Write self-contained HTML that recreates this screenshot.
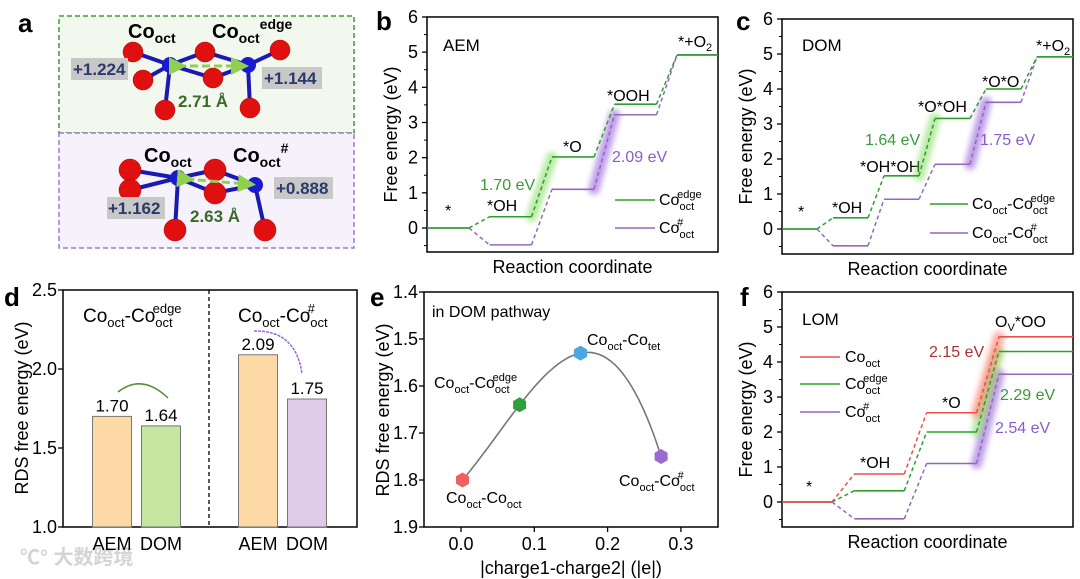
<!DOCTYPE html>
<html><head><meta charset="utf-8">
<style>
html,body{margin:0;padding:0;background:#fff;}
svg{display:block;font-family:"Liberation Sans","Noto Sans CJK SC",sans-serif;}
</style></head>
<body>
<svg id="fig" width="1080" height="579" viewBox="0 0 1080 579">
<defs>
<filter id="blur" x="-50%" y="-50%" width="200%" height="200%"><feGaussianBlur stdDeviation="3"/></filter>
<marker id="ga" markerWidth="6" markerHeight="6" refX="3" refY="3" orient="auto"><path d="M0,0L6,3L0,6z" fill="#8fd14f"/></marker>
</defs>
<g font-weight="bold" font-size="26" fill="#000">
<text x="18" y="32">a</text>
<text x="376" y="30">b</text>
<text x="736" y="30">c</text>
<text x="4" y="306">d</text>
<text x="370" y="306">e</text>
<text x="740" y="306">f</text>
</g>

<g>
<rect x="59" y="16" width="295" height="117" fill="#f2f8ee" stroke="#3f9f3f" stroke-width="1.5" stroke-dasharray="5,3"/>
<rect x="59" y="133" width="295" height="115" fill="#f6f2fb" stroke="#9a7ad0" stroke-width="1.5" stroke-dasharray="5,3"/>
<g stroke="#1a1ab0" stroke-width="4">
<line x1="133" y1="52" x2="170" y2="65"/><line x1="205" y1="52" x2="170" y2="65"/><line x1="143" y1="80" x2="170" y2="65"/><line x1="165" y1="110" x2="170" y2="65"/><line x1="213" y1="78" x2="170" y2="65"/>
<line x1="205" y1="52" x2="248" y2="65"/><line x1="280" y1="50" x2="248" y2="65"/><line x1="213" y1="78" x2="248" y2="65"/><line x1="250" y1="108" x2="248" y2="65"/>
<line x1="130" y1="170" x2="178" y2="178"/><line x1="130" y1="190" x2="178" y2="178"/><line x1="215" y1="170" x2="178" y2="178"/><line x1="215" y1="193" x2="178" y2="178"/><line x1="175" y1="230" x2="178" y2="178"/>
<line x1="215" y1="170" x2="255" y2="185"/><line x1="215" y1="193" x2="255" y2="185"/><line x1="265" y1="230" x2="255" y2="185"/>
</g>
<g fill="#e01010" stroke="#a00" stroke-width="0.5">
<circle cx="133" cy="52" r="10"/><circle cx="205" cy="52" r="10"/><circle cx="280" cy="50" r="10"/><circle cx="143" cy="80" r="10"/><circle cx="213" cy="78" r="10"/><circle cx="165" cy="110" r="10"/><circle cx="250" cy="108" r="10"/>
<circle cx="130" cy="170" r="11"/><circle cx="130" cy="190" r="11"/><circle cx="215" cy="170" r="11"/><circle cx="215" cy="193" r="11"/><circle cx="175" cy="230" r="11"/><circle cx="265" cy="230" r="11"/>
</g>
<g fill="#1a1ad0"><circle cx="170" cy="65" r="8"/><circle cx="248" cy="65" r="8"/><circle cx="178" cy="178" r="8"/><circle cx="255" cy="185" r="8"/></g>
<line x1="178" y1="66" x2="240" y2="66" stroke="#8fd14f" stroke-width="3" stroke-dasharray="8,4" marker-start="url(#ga)" marker-end="url(#ga)"/>
<line x1="186" y1="179" x2="247" y2="184" stroke="#8fd14f" stroke-width="3" stroke-dasharray="8,4" marker-start="url(#ga)" marker-end="url(#ga)"/>
<g fill="#c8c8c8"><rect x="71" y="58" width="57" height="22"/><rect x="262" y="67" width="60" height="22"/><rect x="107" y="197" width="58" height="22"/><rect x="274" y="177" width="59" height="22"/></g>
<g font-weight="bold" font-size="17" fill="#2a3a6a">
<text x="73" y="75">+1.224</text>
<text x="264" y="84">+1.144</text>
<text x="108" y="214">+1.162</text>
<text x="276" y="194">+0.888</text>
</g>
<g font-weight="bold" font-size="17" fill="#3a6a2a">
<text x="178" y="107">2.71 Å</text>
<text x="190" y="222">2.63 Å</text>
</g>
<g font-weight="bold" font-size="20" fill="#000">
<text x="128" y="38">Co<tspan font-size="14" dy="5">oct</tspan></text>
<text x="212" y="38">Co<tspan font-size="14" dy="5">oct</tspan><tspan font-size="14" dy="-14">edge</tspan></text>
<text x="144" y="162">Co<tspan font-size="14" dy="5">oct</tspan></text>
<text x="233" y="162">Co<tspan font-size="14" dy="5">oct</tspan><tspan font-size="14" dy="-14">#</tspan></text>
</g>
</g>

<g font-size="16" fill="#000">
<text x="443" y="51" font-size="17">AEM</text>
<text x="445" y="216">*</text>
<text x="487" y="211">*OH</text>
<text x="563" y="152">*O</text>
<text x="607" y="101">*OOH</text>
<text x="678" y="47">*+O<tspan font-size="11" dy="4">2</tspan></text>
<text x="480" y="190" fill="#3a9a3a" font-size="16">1.70 eV</text>
<text x="612" y="162" fill="#8a5cc8" font-size="16">2.09 eV</text>
<line x1="615" y1="200" x2="655" y2="200" stroke="#2ca02c" stroke-width="1.5"/>
<text x="659" y="205" font-size="16">Co<tspan font-size="11" dy="5">oct</tspan><tspan font-size="11" dx="-17" dy="-12">edge</tspan></text>
<line x1="615" y1="228" x2="655" y2="228" stroke="#9467bd" stroke-width="1.5"/>
<text x="659" y="233" font-size="16">Co<tspan font-size="11" dy="5">oct</tspan><tspan font-size="11" dx="-17" dy="-12">#</tspan></text>
</g>
<g font-size="16" fill="#000">
<text x="802" y="51" font-size="17">DOM</text>
<text x="798" y="217">*</text>
<text x="832" y="213">*OH</text>
<text x="860" y="172">*OH*OH</text>
<text x="918" y="112">*O*OH</text>
<text x="982" y="87">*O*O</text>
<text x="1036" y="51">*+O<tspan font-size="11" dy="4">2</tspan></text>
<text x="865" y="145" fill="#3a9a3a" font-size="16">1.64 eV</text>
<text x="980" y="145" fill="#8a5cc8" font-size="16">1.75 eV</text>
<line x1="930" y1="204" x2="968" y2="204" stroke="#2ca02c" stroke-width="1.5"/>
<text x="972" y="209" font-size="16">Co<tspan font-size="11" dy="5">oct</tspan><tspan dy="-5">-Co</tspan><tspan font-size="11" dy="5">oct</tspan><tspan font-size="11" dx="-17" dy="-12">edge</tspan></text>
<line x1="930" y1="233" x2="968" y2="233" stroke="#9467bd" stroke-width="1.5"/>
<text x="972" y="238" font-size="16">Co<tspan font-size="11" dy="5">oct</tspan><tspan dy="-5">-Co</tspan><tspan font-size="11" dy="5">oct</tspan><tspan font-size="11" dx="-17" dy="-12">#</tspan></text>
</g>
<g font-size="16" fill="#000">
<text x="802" y="325" font-size="17">LOM</text>
<text x="806" y="492">*</text>
<text x="860" y="468">*OH</text>
<text x="942" y="408">*O</text>
<text x="995" y="327">O<tspan font-size="11" dy="4">V</tspan><tspan dy="-4">*OO</tspan></text>
<text x="929" y="357" fill="#b03030" font-size="16">2.15 eV</text>
<text x="1000" y="400" fill="#3a9a3a" font-size="16">2.29 eV</text>
<text x="995" y="433" fill="#8a5cc8" font-size="16">2.54 eV</text>
<line x1="800" y1="357" x2="840" y2="357" stroke="#e8504a" stroke-width="1.5"/>
<text x="845" y="362" font-size="16">Co<tspan font-size="11" dy="5">oct</tspan></text>
<line x1="800" y1="384" x2="840" y2="384" stroke="#2ca02c" stroke-width="1.5"/>
<text x="845" y="389" font-size="16">Co<tspan font-size="11" dy="5">oct</tspan><tspan font-size="11" dx="-17" dy="-12">edge</tspan></text>
<line x1="800" y1="412" x2="840" y2="412" stroke="#9467bd" stroke-width="1.5"/>
<text x="845" y="417" font-size="16">Co<tspan font-size="11" dy="5">oct</tspan><tspan font-size="11" dx="-17" dy="-12">#</tspan></text>
</g>
<g font-size="19" fill="#000">
<text x="83" y="322">Co<tspan font-size="13" dy="5">oct</tspan><tspan dy="-5">-Co</tspan><tspan font-size="13" dy="5">oct</tspan><tspan font-size="13" dx="-20" dy="-14">edge</tspan></text>
<text x="238" y="322">Co<tspan font-size="13" dy="5">oct</tspan><tspan dy="-5">-Co</tspan><tspan font-size="13" dy="5">oct</tspan><tspan font-size="13" dx="-20" dy="-14">#</tspan></text>
<path d="M118,392 Q142,373 168,398" fill="none" stroke="#5a8a3a" stroke-width="1.5"/>
<path d="M254,331 Q296,330 302,374" fill="none" stroke="#9a6ad0" stroke-width="1.5" stroke-dasharray="3,1"/>
<text x="20" y="564" font-size="20" fill="#d4d4d4" font-weight="bold">℃° 大数跨境</text>
</g>
<g font-size="16" fill="#000">
<text x="432" y="317">in DOM pathway</text>
<text x="587" y="345">Co<tspan font-size="11" dy="5">oct</tspan><tspan dy="-5">-Co</tspan><tspan font-size="11" dy="5">tet</tspan></text>
<text x="434" y="388">Co<tspan font-size="11" dy="5">oct</tspan><tspan dy="-5">-Co</tspan><tspan font-size="11" dy="5">oct</tspan><tspan font-size="11" dx="-17" dy="-12">edge</tspan></text>
<text x="446" y="503">Co<tspan font-size="11" dy="5">oct</tspan><tspan dy="-5">-Co</tspan><tspan font-size="11" dy="5">oct</tspan></text>
<text x="619" y="486">Co<tspan font-size="11" dy="5">oct</tspan><tspan dy="-5">-Co</tspan><tspan font-size="11" dy="5">oct</tspan><tspan font-size="11" dx="-17" dy="-12">#</tspan></text>
</g>
<g id="dyn"></g>
</svg>
<script>
var bSteps = ["*","*OH","*O","*OOH","*+O2"];
var bEdge = [0, 0.32, 2.02, 3.52, 4.92];
var bSharp = [0, -0.48, 1.10, 3.22, 4.92];
var cSteps = ["*","*OH","*OH*OH","*O*OH","*O*O","*+O2"];
var cEdge = [0, 0.32, 1.52, 3.16, 4.00, 4.92];
var cSharp = [0, -0.48, 0.85, 1.85, 3.62, 4.92];
var fSteps = ["*","*OH","*O","OvOO"];
var fOct = [0, 0.80, 2.55, 4.72];
var fEdge = [0, 0.32, 2.00, 4.30];
var fSharp = [0, -0.48, 1.10, 3.65];
var energyTicks = [0,1,2,3,4,5,6];
var dCategories = ["AEM","DOM","AEM","DOM"];
var dValues = [1.70, 1.64, 2.09, 1.81];
var dLabels = ["1.70","1.64","2.09","1.75"];
var dTicks = [1.0,1.5,2.0,2.5];
var eNames = ["Co_oct-Co_oct","Co_oct-Co_edge","Co_oct-Co_tet","Co_oct-Co_sharp"];
var eX = [0.002, 0.080, 0.163, 0.273];
var eY = [1.80, 1.64, 1.53, 1.75];
var eXTicks = [0.0,0.1,0.2,0.3];
var eYTicks = [1.4,1.5,1.6,1.7,1.8,1.9];

var NS="http://www.w3.org/2000/svg";
var root=document.getElementById('dyn');
function mk(tag,attrs,parent){var el=document.createElementNS(NS,tag);for(var k in attrs)el.setAttribute(k,attrs[k]);(parent||root).appendChild(el);return el;}

function axesBox(x0,x1,yT,yB,name){
  var el=mk('rect',{x:x0,y:yT,width:x1-x0,height:yB-yT,fill:'none',stroke:'#000','stroke-width':1.5});
  
  
}
function energyPanel(p){
  var ys=function(v){return p.y0-v*p.unit;};
  var xs=function(i){return p.x0+i*p.pitch;};
  axesBox(p.x0,p.x1,ys(6),p.yB,p.name+'-axes');
  energyTicks.forEach(function(t){
    var tk=mk('line',{x1:p.x0-5,x2:p.x0,y1:ys(t),y2:ys(t),stroke:'#000','stroke-width':1.3});
    
    
    var mt=mk('line',{x1:p.x0-3,x2:p.x0,y1:ys(t-0.5),y2:ys(t-0.5),stroke:'#000','stroke-width':1});
    
    
    var tl=mk('text',{x:p.x0-9,y:ys(t)+6,'text-anchor':'end','font-size':18});
    tl.textContent=t;
    
    
  });
  var yt=mk('text',{x:0,y:0,'text-anchor':'middle','font-size':18,transform:'translate('+(p.x0-30)+','+((ys(6)+p.yB)/2)+') rotate(-90)'});
  yt.textContent='Free energy (eV)';
  
  
  var xt=mk('text',{x:(p.x0+p.x1)/2,y:p.yB+21,'text-anchor':'middle','font-size':18});
  xt.textContent='Reaction coordinate';
  
  
  p.series.forEach(function(s){
    var v=s.vals;
    if(s.glow!=null){var k=s.glow;
      var g=mk('line',{x1:xs(k)+p.w,y1:ys(v[k]),x2:xs(k+1),y2:ys(v[k+1]),stroke:s.glowColor,'stroke-width':11,opacity:0.55,filter:'url(#blur)','stroke-linecap':'round'});
      
      
    }
  });
  p.series.forEach(function(s){
    var v=s.vals;
    for(var i=0;i<v.length;i++){
      var xe=(i==v.length-1)?p.x1:xs(i)+p.w;
      var l=mk('line',{x1:xs(i),x2:xe,y1:ys(v[i]),y2:ys(v[i]),stroke:s.color,'stroke-width':1.6});
      
      
      if(i<v.length-1){
        var c=mk('line',{x1:xs(i)+p.w,y1:ys(v[i]),x2:xs(i+1),y2:ys(v[i+1]),stroke:s.color,'stroke-width':1.5,'stroke-dasharray':'4,3'});
        
        
      }
    }
  });
}
energyPanel({name:'panel-b',x0:427,x1:718,y0:228,unit:35.17,yB:252,pitch:62.5,w:42,series:[
  {vals:bSharp,color:'#9467bd',glow:2,glowColor:'#8a4fd8'},{vals:bEdge,color:'#2ca02c',glow:1,glowColor:'#7ed957'}]});
energyPanel({name:'panel-c',x0:782,x1:1073,y0:229,unit:35,yB:254,pitch:51,w:35,series:[
  {vals:cSharp,color:'#9467bd',glow:3,glowColor:'#8a4fd8'},{vals:cEdge,color:'#2ca02c',glow:2,glowColor:'#7ed957'}]});
energyPanel({name:'panel-f',x0:782,x1:1073,y0:502,unit:35,yB:527,pitch:72.3,w:50,series:[
  {vals:fSharp,color:'#9467bd',glow:2,glowColor:'#8a4fd8'},{vals:fEdge,color:'#2ca02c',glow:2,glowColor:'#7ed957'},{vals:fOct,color:'#e8504a',glow:2,glowColor:'#ff6a5a'}]});

(function(){
  var x0=63,x1=357,yB=527,yT=290;
  var ys=function(v){return yB-(v-1.0)*158;};
  var centers=[112,161,258,307],bw=39;
  var fills=['#fdd9a6','#c4e6a0','#fdd9a6','#ddcbe8'];
  axesBox(x0,x1,yT,yB,'panel-d-axes');
  var dv=mk('line',{x1:209,x2:209,y1:yT,y2:yB,stroke:'#000','stroke-width':1.3,'stroke-dasharray':'4,3'});
  
  
  dTicks.forEach(function(t){
    var tk=mk('line',{x1:x0-5,x2:x0,y1:ys(t),y2:ys(t),stroke:'#000','stroke-width':1.3});
    
    
    var tl=mk('text',{x:x0-6,y:ys(t)+6,'text-anchor':'end','font-size':18});
    tl.textContent=t.toFixed(1);
    
    
  });
  dValues.forEach(function(v,i){
    var b=mk('rect',{x:centers[i]-bw/2,y:ys(v),width:bw,height:yB-ys(v),fill:fills[i],stroke:'#777','stroke-width':1});
    
    
    var t=mk('text',{x:centers[i],y:ys(v)-5,'text-anchor':'middle','font-size':17});
    t.textContent=dLabels[i];
    
    
    var c=mk('text',{x:centers[i],y:yB+23,'text-anchor':'middle','font-size':18});
    c.textContent=dCategories[i];
    
    
  });
  var yt=mk('text',{x:0,y:0,'text-anchor':'middle','font-size':18,transform:'translate(28,408) rotate(-90)'});
  yt.textContent='RDS free energy (eV)';
  
  
})();

(function(){
  var x0=424,x1=718,yT=292,yB=527;
  var xs=function(v){return 461+v*733;};
  var ys=function(v){return yT+(v-1.4)*470;};
  axesBox(x0,x1,yT,yB,'panel-e-axes');
  eYTicks.forEach(function(t){
    var tk=mk('line',{x1:x0-5,x2:x0,y1:ys(t),y2:ys(t),stroke:'#000','stroke-width':1.3});
    
    
    var tl=mk('text',{x:x0-6,y:ys(t)+6,'text-anchor':'end','font-size':18});
    tl.textContent=t.toFixed(1);
    
    
  });
  eXTicks.forEach(function(t){
    var tk=mk('line',{x1:xs(t),x2:xs(t),y1:yB,y2:yB+5,stroke:'#000','stroke-width':1.3});
    
    
    var tl=mk('text',{x:xs(t),y:yB+23,'text-anchor':'middle','font-size':18});
    tl.textContent=t.toFixed(1);
    
    
  });
  function lag(x){var s=0;for(var i=0;i<eX.length;i++){var t=eY[i];for(var j=0;j<eX.length;j++)if(j!=i)t*=(x-eX[j])/(eX[i]-eX[j]);s+=t;}return s;}
  var d='',n=60,a=eX[0],b=eX[eX.length-1];
  for(var k=0;k<=n;k++){var x=a+(b-a)*k/n;d+=(k?'L':'M')+xs(x).toFixed(1)+','+ys(lag(x)).toFixed(1);}
  var cv=mk('path',{d:d,fill:'none',stroke:'#777','stroke-width':1.6});
  
  
  var cols=['#f06060','#2e9e3e','#4aa8e0','#9a6ad0'];
  eX.forEach(function(v,i){
    var cx=xs(v),cy=ys(eY[i]),r=7.5,pts=[];
    for(var k=0;k<6;k++){var an=Math.PI/3*k+Math.PI/6;pts.push((cx+r*Math.cos(an)).toFixed(1)+','+(cy+r*Math.sin(an)).toFixed(1));}
    var h=mk('polygon',{points:pts.join(' '),fill:cols[i]});
    
    
  });
  var yt=mk('text',{x:0,y:0,'text-anchor':'middle','font-size':18,transform:'translate(389,410) rotate(-90)'});
  yt.textContent='RDS free energy (eV)';
  
  
  var xt=mk('text',{x:571,y:574,'text-anchor':'middle','font-size':18});
  xt.textContent='|charge1-charge2| (|e|)';
  
  
})();
</script>
</body></html>
